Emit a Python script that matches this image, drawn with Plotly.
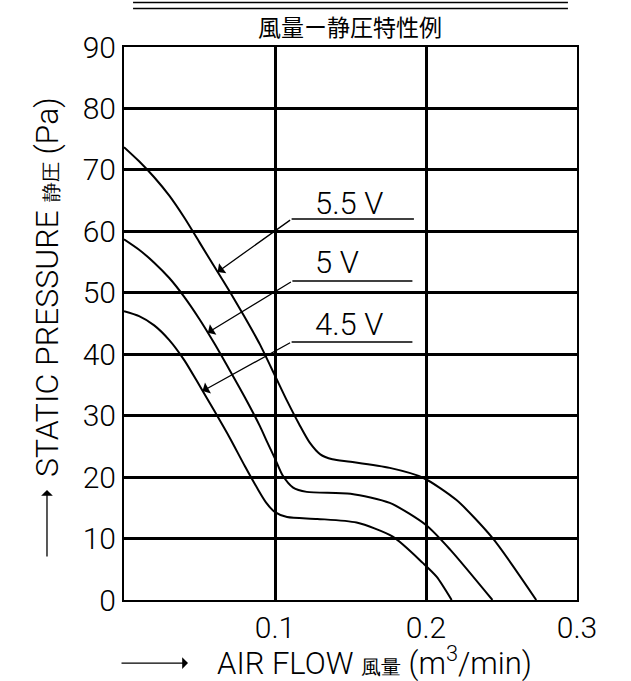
import plotly.graph_objects as go

# ---- data ----
v55_x = [0, 0.01, 0.02, 0.03, 0.04, 0.05, 0.06, 0.07, 0.08, 0.09, 0.1, 0.108, 0.116, 0.123, 0.13, 0.138, 0.15, 0.176, 0.198, 0.22, 0.244, 0.273]
v55_y = [73.7, 71.4, 68.8, 65.8, 62.2, 58.2, 54.2, 50.2, 46.0, 41.6, 36.5, 32.4, 28.6, 25.6, 23.7, 22.9, 22.5, 21.5, 19.9, 16.3, 10.1, 0]

v5_x = [0, 0.01, 0.02, 0.03, 0.04, 0.05, 0.06, 0.07, 0.08, 0.09, 0.095, 0.1, 0.105, 0.112, 0.121, 0.15, 0.176, 0.2, 0.216, 0.244]
v5_y = [58.7, 57.0, 54.9, 52.4, 49.3, 45.7, 41.7, 37.4, 33.0, 28.3, 25.6, 23.0, 20.3, 18.3, 17.6, 17.3, 15.8, 12.2, 8.2, 0]

v45_x = [0, 0.01, 0.02, 0.03, 0.04, 0.05, 0.06, 0.07, 0.08, 0.088, 0.094, 0.1, 0.108, 0.128, 0.154, 0.178, 0.198, 0.207, 0.217]
v45_y = [47.0, 46.2, 44.7, 42.3, 39.0, 34.9, 30.7, 26.4, 21.8, 18.3, 15.9, 14.3, 13.5, 13.2, 12.6, 10.3, 6.0, 3.8, 0]

x_ticks = [0.1, 0.2, 0.3]
x_tick_text = ["0.1", "0.2", "0.3"]
y_ticks = [0, 10, 20, 30, 40, 50, 60, 70, 80, 90]

labels = ["5.5 V", "5 V", "4.5 V"]
label_y = [64.6, 55.0, 44.8]
label_x = [0.125, 0.125, 0.125]
tip_x = [0.062, 0.0555, 0.052]
tip_y = [53.4, 43.5, 34.0]
elbow_x = [0.111, 0.1115, 0.111]
elbow_y = [62.0, 51.9, 42.0]
under_end_x = [0.192, 0.191, 0.191]

title_text = "風量ー静圧特性例"
x_title = "AIR FLOW <span style='font-size:20px'>風量</span> (m<sup>3</sup>/min)"
y_title = "STATIC PRESSURE <span style='font-size:20px'>静圧</span> (Pa)"

FONT = "Roboto, Liberation Sans, sans-serif"
CJK = "Noto Sans CJK JP"

fig = go.Figure()
for xs, ys in [(v55_x, v55_y), (v5_x, v5_y), (v45_x, v45_y)]:
    fig.add_trace(go.Scatter(x=xs, y=ys, mode="lines",
                             line=dict(color="black", width=2, shape="spline", smoothing=0.7),
                             hoverinfo="skip", showlegend=False))

annotations = []
shapes = []
for i in range(3):
    annotations.append(dict(x=label_x[i], y=label_y[i], xref="x", yref="y", text=labels[i],
                            showarrow=False, xanchor="left", yanchor="middle",
                            font=dict(family=FONT, size=31, color="black", weight=300)))
    annotations.append(dict(x=tip_x[i], y=tip_y[i], xref="x", yref="y",
                            ax=elbow_x[i], ay=elbow_y[i], axref="x", ayref="y",
                            text="", showarrow=True, arrowhead=1, arrowsize=1.6,
                            arrowwidth=1.3, arrowcolor="black"))
    shapes.append(dict(type="line", xref="x", yref="y", x0=elbow_x[i], y0=elbow_y[i],
                       x1=under_end_x[i], y1=elbow_y[i], line=dict(color="black", width=1.5)))

# title with double rule above
annotations.append(dict(x=0.499, y=1.038, xref="paper", yref="paper", text=title_text,
                        showarrow=False, xanchor="center", yanchor="middle",
                        font=dict(family=CJK, size=23, color="black")))
for yy in [1.0805, 1.0696]:
    shapes.append(dict(type="line", xref="paper", yref="paper", x0=0.02, x1=0.98, y0=yy, y1=yy,
                       line=dict(color="black", width=1.5)))

# axis titles
annotations.append(dict(x=0.201, y=-0.112, xref="paper", yref="paper", text=x_title,
                        showarrow=False, xanchor="left", yanchor="middle",
                        font=dict(family=FONT, size=31, color="black", weight=300)))
annotations.append(dict(x=0.1413, y=-0.114, xref="paper", yref="paper", text="",
                        showarrow=True, ax=-68, ay=0, arrowhead=1, arrowsize=1.5,
                        arrowwidth=1.3, arrowcolor="black"))
annotations.append(dict(x=-0.170, y=0.566, xref="paper", yref="paper", text=y_title,
                        textangle=-90, showarrow=False, xanchor="center", yanchor="middle",
                        font=dict(family=FONT, size=32, color="black", weight=300)))
annotations.append(dict(x=-0.170, y=0.199, xref="paper", yref="paper", text="",
                        showarrow=True, ax=0, ay=68, arrowhead=1, arrowsize=1.5,
                        arrowwidth=1.3, arrowcolor="black"))

fig.update_layout(
    width=631, height=681,
    margin=dict(l=124, r=54, t=47, b=81),
    paper_bgcolor="white", plot_bgcolor="white",
    annotations=annotations, shapes=shapes,
    xaxis=dict(range=[0, 0.3], tickvals=x_ticks, ticktext=x_tick_text,
               showgrid=True, gridcolor="black", gridwidth=3, zeroline=False,
               showline=True, linecolor="black", linewidth=2, mirror=True,
               ticks="", tickfont=dict(family=FONT, size=30, color="black", weight=300)),
    yaxis=dict(range=[0, 90], tickvals=y_ticks, dtick=10,
               showgrid=True, gridcolor="black", gridwidth=3, zeroline=False,
               showline=True, linecolor="black", linewidth=2, mirror=True,
               ticks="", tickfont=dict(family=FONT, size=30, color="black", weight=300)),
)

# remove the browser's default 8px body margin so the figure fills the window
fig.write_html("out.html", config={"displayModeBar": False},
               post_script="document.body.style.margin='0px';")
